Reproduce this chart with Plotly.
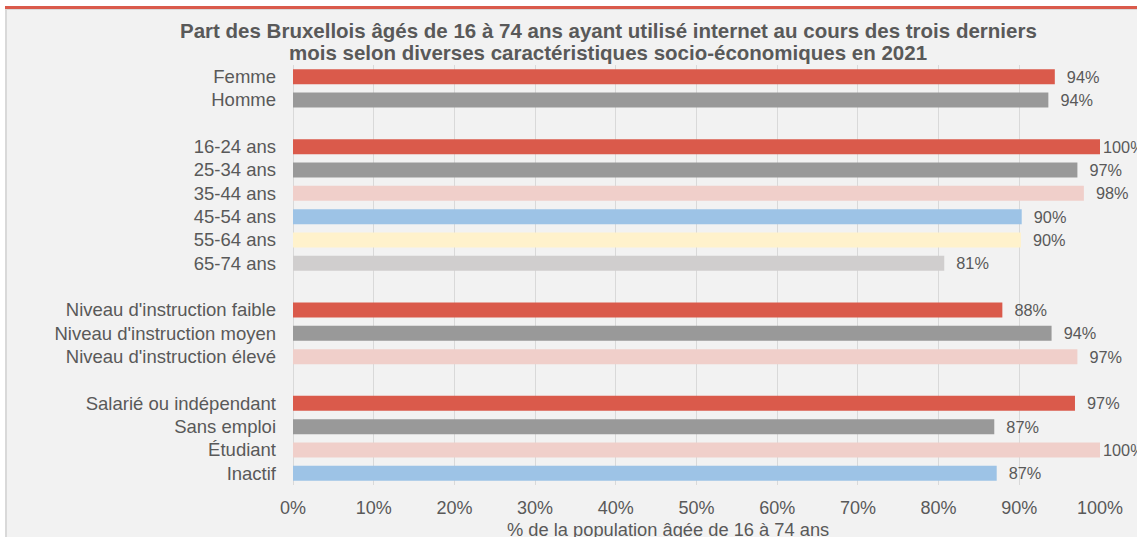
import plotly.graph_objects as go

# ---- data ----
sexe_labels = ["Femme", "Homme"]
sexe_values = [94.4, 93.6]

age_labels = ["16-24 ans", "25-34 ans", "35-44 ans", "45-54 ans", "55-64 ans", "65-74 ans"]
age_values = [100.0, 97.2, 98.0, 90.3, 90.2, 80.7]

instr_labels = ["Niveau d'instruction faible", "Niveau d'instruction moyen", "Niveau d'instruction élevé"]
instr_values = [87.9, 94.0, 97.2]

statut_labels = ["Salarié ou indépendant", "Sans emploi", "Étudiant", "Inactif"]
statut_values = [96.9, 86.9, 100.0, 87.2]

x_ticks = [0, 10, 20, 30, 40, 50, 60, 70, 80, 90, 100]
x_ticktext = [f"{t}%" for t in x_ticks]

title_line1 = "Part des Bruxellois âgés de 16 à 74 ans ayant utilisé internet au cours des trois derniers"
title_line2 = "mois selon diverses caractéristiques socio-économiques en 2021"
xaxis_title = "% de la population âgée de 16 à 74 ans"

palette = ["#DA5A4B", "#999999", "#F0CFCA", "#9DC3E6", "#FFF2CC", "#D0CECE"]
spacers = [" ", "  ", "   "]

TXT = "#595959"
GRID = "#D9D9D9"
FONT = "Liberation Sans, Arial, sans-serif"

groups = [(sexe_labels, sexe_values), (age_labels, age_values),
          (instr_labels, instr_values), (statut_labels, statut_values)]

order = []
for i, (labs, _) in enumerate(groups):
    order += labs
    if i < len(spacers):
        order.append(spacers[i])

fig = go.Figure()
for labs, vals in groups:
    texts = [("" if v >= 99.5 else "\u00a0\u00a0") + f"{round(v)}%" for v in vals]
    fig.add_trace(go.Bar(
        x=vals, y=labs, orientation="h",
        marker=dict(color=palette[:len(vals)], line=dict(width=0)),
        width=0.64,
        text=texts, textposition="outside", constraintext="none",
        cliponaxis=False,
        textfont=dict(color=TXT, size=16.3, family=FONT),
        showlegend=False, hoverinfo="x+y",
    ))
# spacer rows
fig.add_trace(go.Bar(x=[None] * len(spacers), y=spacers, orientation="h",
                     showlegend=False, hoverinfo="skip"))

L, R, T, B = 293, 37, 65, 52
W, H = 1137, 537
pw, ph = W - L - R, H - T - B


def px(xp):
    return (xp - L) / pw


def py(yp):
    return (H - B - yp) / ph


shapes = [
    dict(type="rect", xref="paper", yref="paper", x0=px(-5), x1=px(W + 5), y0=py(6), y1=py(-5),
         fillcolor="white", line=dict(width=0), layer="below"),
    dict(type="rect", xref="paper", yref="paper", x0=px(-5), x1=px(5), y0=py(H + 5), y1=py(-5),
         fillcolor="white", line=dict(width=0), layer="below"),
    dict(type="rect", xref="paper", yref="paper", x0=px(5), x1=px(W + 5), y0=py(10), y1=py(9),
         fillcolor="#D9D9D9", line=dict(width=0), layer="below"),
    dict(type="rect", xref="paper", yref="paper", x0=px(5), x1=px(7), y0=py(H + 5), y1=py(9),
         fillcolor="#D9D9D9", line=dict(width=0), layer="below"),
    dict(type="rect", xref="paper", yref="paper", x0=px(5), x1=px(W + 5), y0=py(9), y1=py(6),
         fillcolor="#DA5A4B", line=dict(width=0), layer="below"),
]

title_font = dict(size=20.5, color=TXT, family=FONT, weight="bold")
annotations = [
    dict(text=title_line1, xref="paper", yref="paper", x=px(608), y=py(30),
         xanchor="center", yanchor="middle", showarrow=False, font=title_font),
    dict(text=title_line2, xref="paper", yref="paper", x=px(608), y=py(52.5),
         xanchor="center", yanchor="middle", showarrow=False, font=title_font),
    dict(text=xaxis_title, xref="paper", yref="paper", x=px(668), y=py(529),
         xanchor="center", yanchor="middle", showarrow=False,
         font=dict(size=18.3, color=TXT, family=FONT)),
]

fig.update_layout(
    width=W, height=H,
    margin=dict(l=L, r=R, t=T, b=B, pad=0),
    paper_bgcolor="#F2F2F2", plot_bgcolor="#F2F2F2",
    font=dict(family=FONT, color=TXT),
    barmode="overlay",
    shapes=shapes,
    annotations=annotations,
    xaxis=dict(range=[0, 100], tickvals=x_ticks, ticktext=x_ticktext,
               showgrid=True, gridcolor=GRID, gridwidth=1.3,
               zeroline=True, zerolinecolor=GRID, zerolinewidth=1.3,
               showline=False, ticks="", ticklabelstandoff=10,
               tickfont=dict(size=18, color=TXT, family=FONT), fixedrange=True),
    yaxis=dict(categoryorder="array", categoryarray=order, autorange="reversed",
               showgrid=False, zeroline=False, showline=False, ticks="",
               ticklabelstandoff=16,
               tickfont=dict(size=18.5, color=TXT, family=FONT), fixedrange=True),
)

fig.write_html("out.html", config={"displayModeBar": False},
               post_script="document.body.style.margin='0';document.body.style.overflow='hidden';")
